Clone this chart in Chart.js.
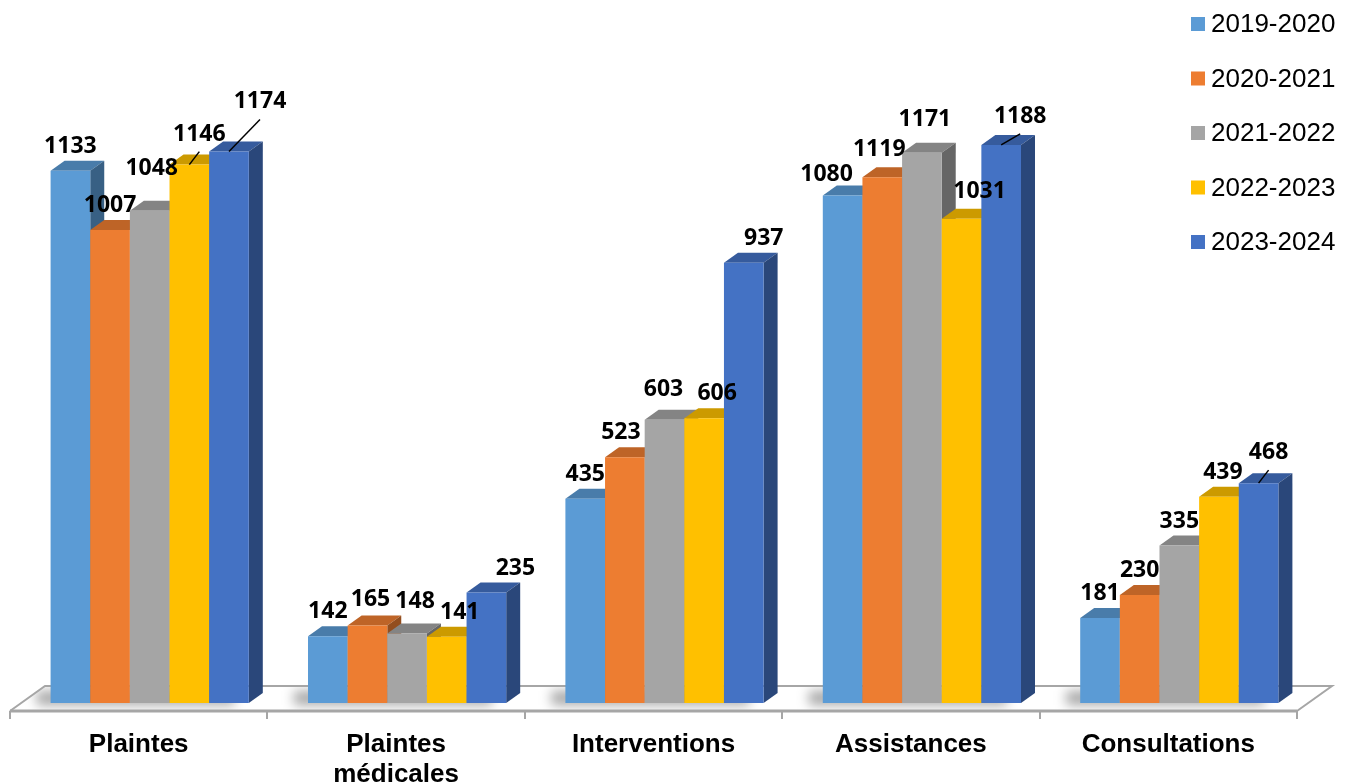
<!DOCTYPE html>
<html lang="fr">
<head>
<meta charset="utf-8">
<title>Activité par année</title>
<script src="https://cdn.jsdelivr.net/npm/chart.js@4.4.1/dist/chart.umd.min.js"></script>
<style>
  html, body { margin: 0; padding: 0; background: #fff; }
  #wrap { width: 1354px; height: 784px; }
</style>
</head>
<body>
<div id="wrap"><canvas id="chart" width="1354" height="784"></canvas></div>
<script>
// categories and yearly values
const categories = ["Plaintes", ["Plaintes", "médicales"], "Interventions", "Assistances", "Consultations"];
const seasons = ["2019-2020", "2020-2021", "2021-2022", "2022-2023", "2023-2024"];
const v2019 = [1133, 142, 435, 1080, 181];
const v2020 = [1007, 165, 523, 1119, 230];
const v2021 = [1048, 148, 603, 1171, 335];
const v2022 = [1146, 141, 606, 1031, 439];
const v2023 = [1174, 235, 937, 1188, 468];
const colors = ["#5B9BD5", "#ED7D31", "#A5A5A5", "#FFC000", "#4472C4"];

// hand-placed value labels: [dx, dy] nudges, and which ones get a leader line
const labelNudge = [
  [[0, 0], [0, 0], [0, 0], [-16, 3], [0, 0]],
  [[0, 0], [3, -1], [-4, 0], [-3, -3], [0, 0]],
  [[2, -18], [8, -7], [-1, -6], [3, -9], [0, 0]],
  [[10, -6], [13, 0], [13, 0], [18, -3], [4, 0]],
  [[31, -25], [29, 0], [20, 0], [19, -4], [10, -6]]
];
const leaders = [
  [false, false, false, false, false],
  [false, false, false, false, false],
  [false, false, false, false, false],
  [true, false, false, false, false],
  [true, false, false, true, true]
];

const DX = 14, DY = 10;          // bar depth
const FLOOR_DX = 35, FLOOR_DY = 25;
const FRONT_X = 11, FRONT_Y = 8; // bars sit this far back on the floor

function shade(hex, f) {
  const n = parseInt(hex.slice(1), 16);
  const r = Math.round(((n >> 16) & 255) * f);
  const g = Math.round(((n >> 8) & 255) * f);
  const b = Math.round((n & 255) * f);
  return `rgb(${r},${g},${b})`;
}

function drawFloor(chart) {
  const { ctx, chartArea, scales } = chart;
  const base = scales.y.getPixelForValue(0);
  const fl = chartArea.left - FRONT_X, fr = chartArea.right - FRONT_X;
  const fy = base + FRONT_Y;
  const w = (chartArea.right - chartArea.left) / categories.length;
  ctx.save();
  ctx.beginPath();
  ctx.moveTo(fl, fy);
  ctx.lineTo(fl + FLOOR_DX, fy - FLOOR_DY);
  ctx.lineTo(fr + FLOOR_DX, fy - FLOOR_DY);
  ctx.lineTo(fr, fy);
  ctx.closePath();
  ctx.fillStyle = "#fff";
  ctx.fill();
  // soft shadow under each group
  ctx.save();
  ctx.clip();
  ctx.filter = "blur(6px)";
  ctx.fillStyle = "rgba(0,0,0,0.35)";
  categories.forEach((_, i) => {
    const c = scales.x.getPixelForValue(i);
    ctx.fillRect(c - w * 0.385 - 14, base - 12, w * 0.77, 14);
  });
  ctx.restore();
  ctx.strokeStyle = "#A6A6A6";
  ctx.lineWidth = 2;
  ctx.beginPath();
  ctx.moveTo(fl, fy);
  ctx.lineTo(fl + FLOOR_DX, fy - FLOOR_DY);
  ctx.lineTo(fr + FLOOR_DX, fy - FLOOR_DY);
  ctx.lineTo(fr, fy);
  ctx.stroke();
  ctx.lineWidth = 3;
  ctx.beginPath();
  ctx.moveTo(fl, fy);
  ctx.lineTo(fr, fy);
  ctx.stroke();
  // ticks between categories
  ctx.lineWidth = 2;
  ctx.beginPath();
  for (let k = 0; k <= categories.length; k++) {
    const tx = Math.round(fl + k * w);
    ctx.moveTo(tx, fy);
    ctx.lineTo(tx, fy + 8);
  }
  ctx.stroke();
  ctx.restore();
}

// top and right side faces of one bar
function drawFaces(ctx, bar, color) {
  const { x, y, base, width } = bar.getProps(["x", "y", "base", "width"], true);
  const l = x - width / 2, r = x + width / 2;
  ctx.fillStyle = shade(color, 0.8);
  ctx.beginPath();
  ctx.moveTo(l, y);
  ctx.lineTo(l + DX, y - DY);
  ctx.lineTo(r + DX, y - DY);
  ctx.lineTo(r, y);
  ctx.closePath();
  ctx.fill();
  ctx.fillStyle = shade(color, 0.62);
  ctx.beginPath();
  ctx.moveTo(r, y);
  ctx.lineTo(r + DX, y - DY);
  ctx.lineTo(r + DX, base - DY);
  ctx.lineTo(r, base);
  ctx.closePath();
  ctx.fill();
}

const bars3d = {
  id: "bars3d",
  beforeDatasetsDraw(chart) {
    drawFloor(chart);
  },
  // the bars are painted below, left to right, so each front face hides its left neighbour's side
  beforeDatasetDraw() {
    return false;
  },
  afterDatasetsDraw(chart) {
    const ctx = chart.ctx;
    ctx.save();
    chart.data.datasets.forEach((ds, di) => {
      chart.getDatasetMeta(di).data.forEach(bar => {
        drawFaces(ctx, bar, ds.backgroundColor);
        bar.draw(ctx, chart.chartArea);
      });
    });
    ctx.restore();

    // value labels
    ctx.save();
    ctx.font = "bold 23px 'Open Sans'";
    ctx.textAlign = "center";
    ctx.textBaseline = "alphabetic";
    ctx.fillStyle = "#000";
    ctx.strokeStyle = "#000";
    ctx.lineWidth = 1.5;
    chart.data.datasets.forEach((ds, di) => {
      chart.getDatasetMeta(di).data.forEach((bar, i) => {
        const [nx, ny] = labelNudge[di][i];
        const lx = bar.x + nx, ly = bar.y - 26 + ny;
        ctx.fillText(String(ds.data[i]), lx, ly + 8);
        if (leaders[di][i]) {
          ctx.beginPath();
          ctx.moveTo(lx, ly + 19);
          ctx.lineTo(bar.x, bar.y);
          ctx.stroke();
        }
      });
    });
    ctx.restore();
  },
  afterDraw(chart) {
    const { ctx, scales } = chart;
    ctx.save();
    // category labels, on the front edge of the floor
    ctx.font = "bold 26px 'Liberation Sans'";
    ctx.textAlign = "center";
    ctx.textBaseline = "alphabetic";
    ctx.fillStyle = "#000";
    categories.forEach((lab, i) => {
      const cx = scales.x.getPixelForValue(i) - FRONT_X;
      const lines = Array.isArray(lab) ? lab : [lab];
      lines.forEach((t, k) => ctx.fillText(t, cx, 752 + k * 30));
    });
    // legend
    ctx.font = "26px 'Liberation Sans'";
    ctx.textAlign = "left";
    ctx.textBaseline = "middle";
    chart.data.datasets.forEach((ds, i) => {
      const cy = 24 + i * 54.5;
      ctx.fillStyle = ds.backgroundColor;
      ctx.fillRect(1191, cy - 7, 14, 14);
      ctx.fillStyle = "#000";
      ctx.fillText(ds.label, 1211, cy + 1);
    });
    ctx.restore();
  }
};

const series = [v2019, v2020, v2021, v2022, v2023];

new Chart(document.getElementById("chart"), {
  type: "bar",
  data: {
    labels: categories,
    datasets: series.map((vals, i) => ({
      label: seasons[i],
      data: vals,
      backgroundColor: colors[i],
      borderWidth: 0,
      categoryPercentage: 0.77,
      barPercentage: 1.0
    }))
  },
  options: {
    responsive: false,
    devicePixelRatio: 1,
    animation: false,
    events: [],
    layout: { padding: { left: 21, right: 46, top: 3, bottom: 81 } },
    plugins: { legend: { display: false }, tooltip: { enabled: false } },
    scales: {
      x: { display: false },
      y: { display: false, min: 0, max: 1490 }
    }
  },
  plugins: [bars3d]
});
</script>
</body>
</html>
